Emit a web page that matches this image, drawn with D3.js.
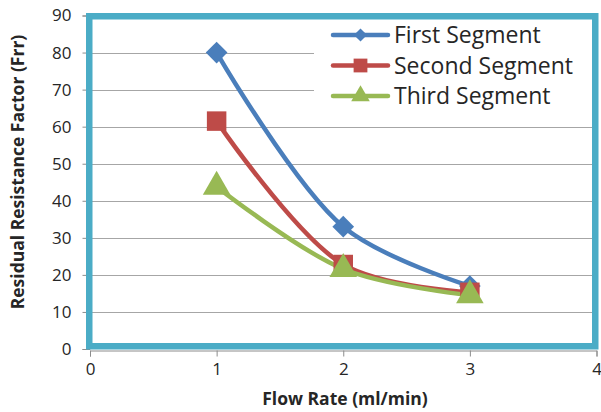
<!DOCTYPE html>
<html>
<head>
<meta charset="utf-8">
<script src="https://cdn.jsdelivr.net/npm/d3@7"></script>
<style>
  html, body { margin: 0; padding: 0; background: #fff; }
  svg { display: block; }
  text { font-family: "Open Sans", "Liberation Sans", sans-serif; fill: #262626; }
</style>
</head>
<body>
<svg id="chart" width="601" height="412"></svg>
<script>
// Flow rate (ml/min) and residual resistance factor per core segment
const flowRates = [1, 2, 3];
const firstSegment = [80, 33, 17];
const secondSegment = [61.5, 22.8, 15.3];
const thirdSegment = [43.8, 21.6, 14.5];
const seriesNames = ["First Segment", "Second Segment", "Third Segment"];
const xTicks = [0, 1, 2, 3, 4];
const yTicks = [0, 10, 20, 30, 40, 50, 60, 70, 80, 90];

const colors = ["#4a7ebb", "#be4b48", "#98b954"];
const symbols = [d3.symbolDiamond2, d3.symbolSquare, d3.symbolTriangle];

const svg = d3.select("#chart");
const plotLeft = 90, plotRight = 596.5, plotTop = 15.5, plotBottom = 349;

const x = d3.scaleLinear().domain([0, 4]).range([plotLeft, plotRight]);
const y = d3.scaleLinear().domain([0, 90]).range([plotBottom, plotTop]);

// horizontal gridlines
svg.append("g")
  .selectAll("line")
  .data(yTicks.filter(v => v > 0 && v < 90))
  .join("line")
  .attr("x1", plotLeft).attr("x2", plotRight - 3)
  .attr("y1", d => Math.round(y(d)) + 0.5).attr("y2", d => Math.round(y(d)) + 0.5)
  .attr("stroke", "#a6a6a6").attr("stroke-width", 1);

// y axis
const yAxis = svg.append("g")
  .attr("transform", `translate(${plotLeft - 0.5},0)`)
  .call(d3.axisLeft(y).tickValues(yTicks).tickFormat(d3.format("d")).tickSize(7).tickPadding(11));
yAxis.select(".domain").attr("stroke", "#8c8c8c");
yAxis.selectAll(".tick line").attr("stroke", "#8c8c8c");
yAxis.selectAll(".tick text")
  .style("font-size", "17px").style("font-family", "'Open Sans', sans-serif")
  .attr("fill", "#262626");

// x axis
const xAxis = svg.append("g")
  .attr("transform", `translate(0,${plotBottom + 1.5})`)
  .call(d3.axisBottom(x).tickValues(xTicks).tickFormat(d3.format("d")).tickSize(6).tickPadding(6));
xAxis.select(".domain").attr("stroke", "#8c8c8c");
xAxis.selectAll(".tick line").attr("stroke", "#8c8c8c");
xAxis.selectAll(".tick text")
  .style("font-size", "17px").style("font-family", "'Open Sans', sans-serif")
  .attr("fill", "#262626");

// legend box (sits over the gridlines)
const legend = svg.append("g");
legend.append("rect")
  .attr("x", 314).attr("y", 19).attr("width", 278).attr("height", 95)
  .attr("fill", "#fff");

// plot area border
svg.append("rect")
  .attr("x", 89.25).attr("y", 16.25)
  .attr("width", 595.25 - 89.25).attr("height", 346.25 - 16.25)
  .attr("fill", "none").attr("stroke", "#4bacc6").attr("stroke-width", 6.5);

// axis titles
svg.append("text")
  .attr("x", 345).attr("y", 405)
  .attr("text-anchor", "middle")
  .style("font-size", "17.5px").style("font-weight", "bold")
  .text("Flow Rate (ml/min)");

svg.append("text")
  .attr("transform", "translate(24,172) rotate(-90)")
  .attr("text-anchor", "middle")
  .style("font-size", "17.5px").style("font-weight", "bold")
  .text("Residual Resistance Factor (Frr)");

// series
const allSeries = [firstSegment, secondSegment, thirdSegment];
const line = d3.line()
  .x(d => x(d[0])).y(d => y(d[1]))
  .curve(d3.curveCatmullRom.alpha(0.5));

const markerSizes = [300, 380, 330];

allSeries.forEach((vals, i) => {
  const pts = flowRates.map((f, j) => [f, vals[j]]);
  svg.append("path")
    .datum(pts)
    .attr("d", line)
    .attr("fill", "none")
    .attr("stroke", colors[i])
    .attr("stroke-width", 4.5)
    .attr("stroke-linejoin", "round");
});

allSeries.forEach((vals, i) => {
  const pts = flowRates.map((f, j) => [f, vals[j]]);
  svg.append("g")
    .selectAll("path")
    .data(pts)
    .join("path")
    .attr("transform", d => `translate(${x(d[0])},${y(d[1])})`)
    .attr("d", d3.symbol().type(symbols[i]).size(markerSizes[i]))
    .attr("fill", colors[i]);
});

// legend entries
const legendYs = [35, 65.5, 96];
const legendSizes = [110, 190, 150];
seriesNames.forEach((name, i) => {
  const g = legend.append("g").attr("transform", `translate(0,${legendYs[i]})`);
  g.append("line")
    .attr("x1", 333).attr("x2", 388).attr("y1", 0).attr("y2", 0)
    .attr("stroke", colors[i]).attr("stroke-width", 4.5).attr("stroke-linecap", "round");
  g.append("path")
    .attr("transform", "translate(360.5,0)")
    .attr("d", d3.symbol().type(symbols[i]).size(legendSizes[i]))
    .attr("fill", colors[i]);
  g.append("text")
    .attr("x", 394).attr("y", 0).attr("dy", "0.35em")
    .style("font-size", "23px")
    .text(name);
});
</script>
</body>
</html>
